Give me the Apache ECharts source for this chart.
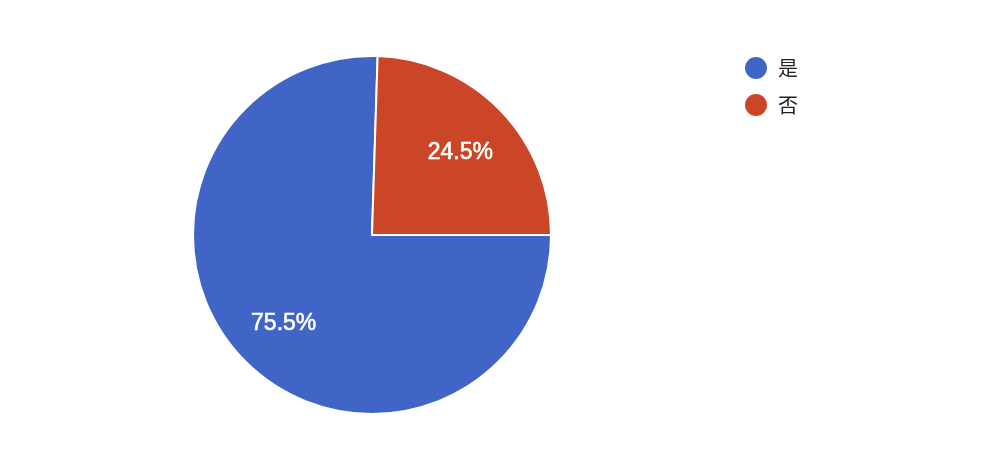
<!DOCTYPE html>
<html><head><meta charset="utf-8">
<script src="https://cdn.jsdelivr.net/npm/echarts@6/dist/echarts.min.js"></script>
<style>html,body{margin:0;padding:0;background:#fff}#c{width:1000px;height:462px}</style>
</head><body><div id="c"></div>
<script>
const categories = ['是', '否'];
const values = [75.5, 24.5];
const colors = ['#4065c6', '#cb4527'];

const data = categories.map((n, i) => ({ name: n, value: values[i] }));
const chart = echarts.init(document.getElementById('c'));
chart.setOption({
  animation: false,
  color: colors,
  legend: {
    orient: 'vertical', left: 738, top: 50, icon: 'circle',
    itemWidth: 24, itemHeight: 24, itemGap: 11,
    textStyle: { fontSize: 20, color: '#222', fontFamily: 'Noto Sans CJK SC', padding: [0, 0, 0, 5] },
    data: categories
  },
  series: [{
    type: 'pie', center: [372, 235], radius: [0, 179], startAngle: 0, clockwise: true,
    data: data, label: { show: false }, labelLine: { show: false },
    itemStyle: { borderColor: '#fff', borderWidth: 2 }, silent: true
  }, {
    type: 'pie', center: [372, 235], radius: [0, 240], startAngle: 0, clockwise: true,
    data: data, silent: true, legendHoverLink: false,
    itemStyle: { color: 'rgba(0,0,0,0)' },
    label: { show: true, position: 'inside', formatter: p => p.value.toFixed(1) + '%', color: '#fff',
      fontSize: 23, fontFamily: 'Liberation Sans', textBorderColor: '#fff', textBorderWidth: 0.6,
      offset: [0, 3] },
    labelLine: { show: false }
  }]
});
</script></body></html>
